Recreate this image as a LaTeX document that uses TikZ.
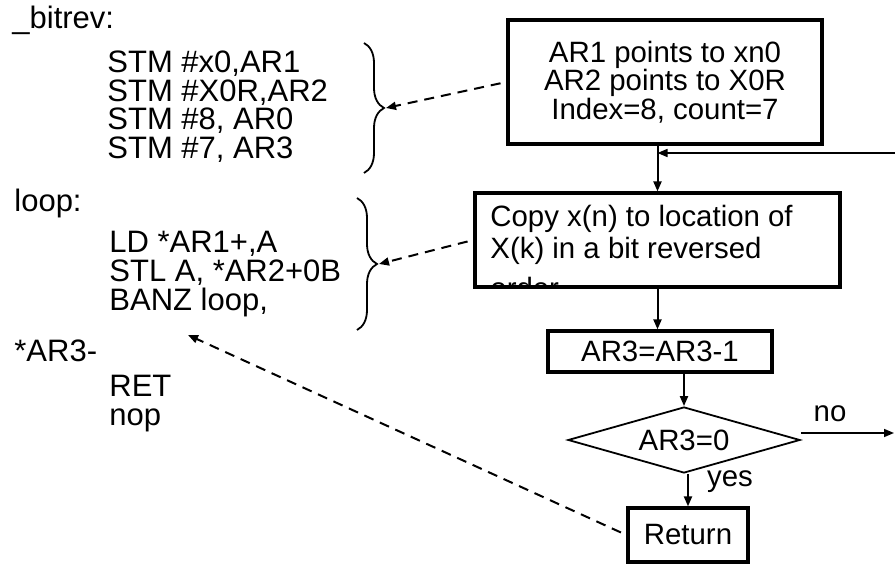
\documentclass[tikz,border=0pt]{standalone}
\usepackage{fontspec}
\setmainfont{Liberation Sans}
\usetikzlibrary{arrows.meta,positioning,calc,shapes.geometric,decorations.pathreplacing}

\begin{document}
\begin{tikzpicture}[
  x=0.5pt, y=-0.5pt,
  code/.style={anchor=base west, inner sep=0pt, font=\fontsize{15.5}{14.3}\selectfont},
  lbl/.style={anchor=base, inner sep=0pt, font=\fontsize{14.7}{14.3}\selectfont},
  stepbox/.style={rectangle, draw, line width=1.6pt, inner sep=0pt, font=\fontsize{14.7}{14.3}\selectfont, align=center},
  test/.style={diamond, draw, line width=0.9pt, inner sep=0pt, aspect=3.5, minimum width=116pt, minimum height=33pt, font=\fontsize{14.7}{14.3}\selectfont},
  flow/.style={-{Triangle[length=5pt,width=4pt]}, line width=1pt},
  ref/.style={flow, dash pattern=on 5pt off 3.5pt, shorten <=3pt},
  grp/.style={decorate, decoration={brace, amplitude=10pt}, line width=0.9pt},
]
\useasboundingbox (0,0) rectangle (895,565);
\node[code] (bitrev) at (12,29) {\_bitrev:};
\node[code] (stm1) at (107,73) {STM \#x0,AR1};
\node[code] (stm2) at (107,101.5) {STM \#X0R,AR2};
\node[code] (stm3) at (107,130) {STM \#8, AR0};
\node[code] (stm4) at (107,158.5) {STM \#7, AR3};
\node[code] (loop) at (14,212) {loop:};
\node[code] (ld) at (109,253) {LD *AR1+,A};
\node[code] (stl) at (109,282) {STL A, *AR2+0B};
\node[code] (banz) at (109,311) {BANZ loop,};
\node[code] (ar3) at (14,362) {*AR3-};
\node[code] (ret1) at (109,397) {RET};
\node[code] (nop) at (109,426) {nop};
\draw[grp] (364,43) -- node[midway, coordinate, xshift=11pt] (g1) {} (364,173);
\draw[grp] (357,198) -- node[midway, coordinate, xshift=11pt] (g2) {} (357,330);
\coordinate (loopref) at (188,335);

\node[stepbox, minimum width=157pt, minimum height=62pt] (init) at (665,82) {AR1 points to xn0\\AR2 points to X0R\\Index=8, count=7};
\begin{scope}
\clip (475,193) rectangle (840,287);
\node[code, anchor=north west, align=left, font=\fontsize{14.7}{16}\selectfont] (copytxt) at (490,205) {Copy x(n) to location of\\X(k) in a bit reversed\\[4pt]order};
\end{scope}
\node[stepbox, minimum width=182.5pt, minimum height=47pt] (copy) at (657.5,240) {};
\node[stepbox, minimum width=112pt, minimum height=20.5pt] (dec) at (660,351.5) {AR3=AR3-1};
\node[test] (dia) at (684,440) {AR3=0};
\node[stepbox, minimum width=60pt, minimum height=27pt] (ret) at (688,535) {Return};
\node[lbl] (nolbl) at (830,422) {no};
\node[lbl] (yeslbl) at (730,487) {yes};
\coordinate (back) at (895,153);
\coordinate (noout) at (894,433);

\draw[flow] (init.south -| copy.north) -- (copy.north);
\draw[flow, line width=0.8pt] (back) -- (back -| copy.north);
\draw[flow] (copy.south) -- (copy.south |- dec.north);
\draw[flow] (dec.south -| dia.north) -- (dia.north);
\draw[flow] (ret.north |- dia.south) -- (ret.north);
\draw[flow, line width=0.8pt] (noout -| dia.east) -- (noout);
\draw[ref] (init.west) -- (g1);
\draw[ref] (copy.west) -- (g2);
\draw[ref] (ret.west) -- (loopref);
\end{tikzpicture}
\end{document}
